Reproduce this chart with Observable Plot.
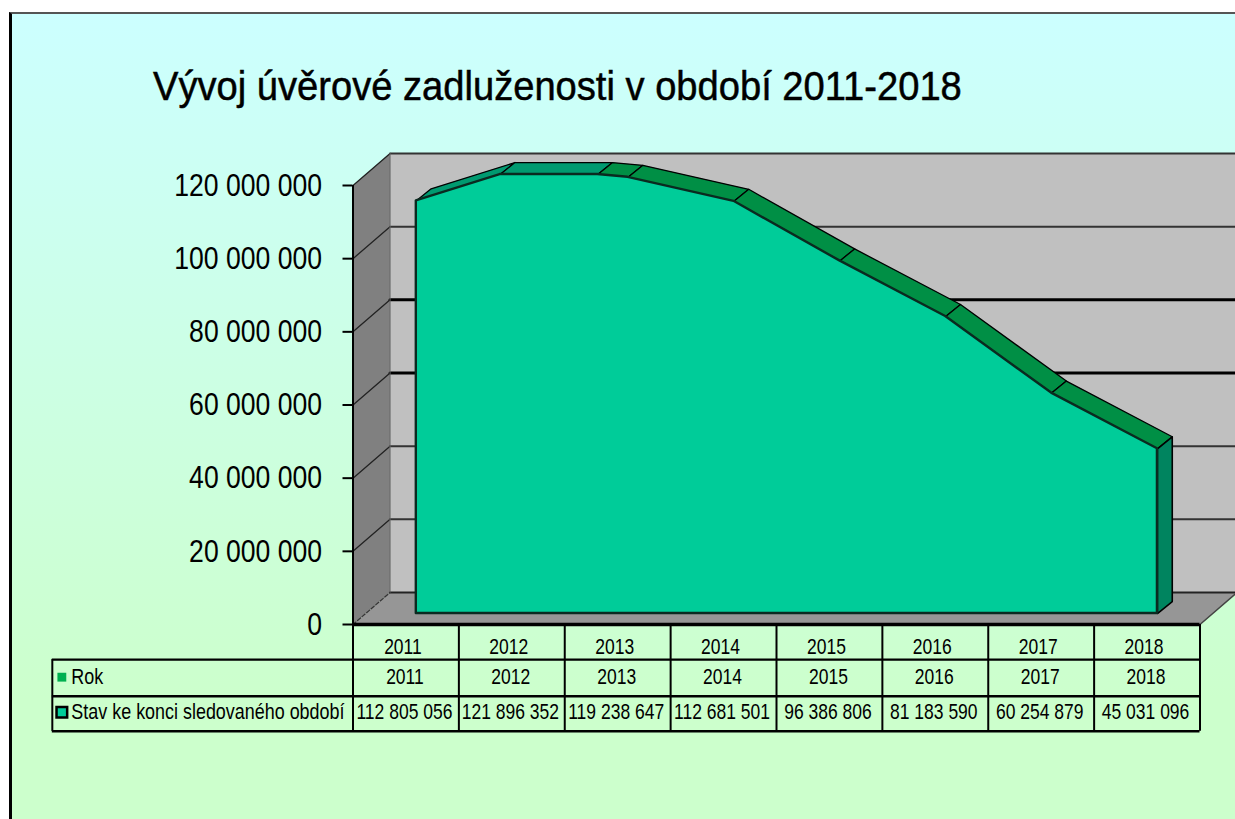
<!DOCTYPE html>
<html><head><meta charset="utf-8">
<script src="https://cdn.jsdelivr.net/npm/d3@7"></script>
<script src="https://cdn.jsdelivr.net/npm/@observablehq/plot@0.6"></script>
<style>
html,body{margin:0;padding:0;background:#fff;overflow:hidden}
#sheet{position:absolute;left:9px;top:12px;width:1226px;height:807px;box-sizing:border-box;border-left:3px solid #000;border-top:2px solid #555;background:linear-gradient(#ccffff,#ccffcc 85%)}
#wrap{position:absolute;left:0;top:0;width:1235px;height:819px}
#title{height:140px;box-sizing:border-box;padding:62px 0 0 153px;font:400 40px/48px "Liberation Sans",Arial,sans-serif;color:#000;white-space:nowrap;-webkit-text-stroke:.5px #000;transform-origin:153px 0;transform:scaleX(.953)}
#wrap svg{display:block}
</style></head><body>
<div id="sheet"></div>
<div id="wrap"><div id="title">Vývoj úvěrové zadluženosti v období 2011-2018</div></div>
<script>
const years=[2011,2012,2013,2014,2015,2016,2017,2018];
const balances=[112805056,121896352,119238647,112681501,96386806,81183590,60254879,45031096];
const balanceLabels=["112 805 056","121 896 352","119 238 647","112 681 501","96 386 806","81 183 590","60 254 879","45 031 096"];
const yTicks=[0,20e6,40e6,60e6,80e6,100e6,120e6];
const yMax=120e6;
const seriesName="Stav ke konci sledovaného období";
const yearRowName="Rok";

// oblique 3-D depth, expressed in data units (years, value)
const wallDepth=[0.35,8.75e6];
const seriesFront=[0.098,3.0e6];
const seriesBack=[0.238,6.28e6];
const shift=(p,d)=>({x:p.x+d[0],y:p.y+d[1]});

// the value axis stops at 120 000 000, so the drawn surface is cut where it crosses it
const profile=[];
years.forEach((yr,i)=>{
  if(i>0){
    const a=balances[i-1],b=balances[i];
    if((a-yMax)*(b-yMax)<0) profile.push({x:years[i-1]+(yMax-a)/(b-a),y:yMax});
  }
  if(balances[i]<=yMax) profile.push({x:yr,y:balances[i]});
});
const front=profile.map(p=>shift(p,seriesFront));
const baseY=seriesFront[1];

// table geometry in data units
const left=2010.5,right=2018.5,tableLeft=2007.66;
const rowEdges=[0,-9.6e6,-19.6e6,-29.2e6];
const rowCentres=[-6.1e6,-14.4e6,-24.0e6];
const columnEdges=d3.range(left,right+1);
const poly=(pts,o)=>Plot.line([...pts,pts[0]],{x:"x",y:"y",...o});
const c=(x,y)=>({x,y});

const wallBack=[c(left,0),c(right,0),c(right,yMax),c(left,yMax)].map(p=>shift(p,wallDepth));
const wallLeft=[c(left,0),shift(c(left,0),wallDepth),shift(c(left,yMax),wallDepth),c(left,yMax)];
const floor=[c(left,0),c(right,0),shift(c(right,0),wallDepth),shift(c(left,0),wallDepth)];

const gridMarks=yTicks.slice(1).flatMap(v=>{
  const heavy=(v===60e6||v===80e6);
  const p=c(left,v),q=shift(p,wallDepth),r=shift(c(right,v),wallDepth);
  return [
    Plot.line([p,q],{x:"x",y:"y",stroke:"#222",strokeWidth:1.3}),
    Plot.line([q,r],{x:"x",y:"y",stroke:heavy?"#000":"#333",strokeWidth:heavy?3:2})
  ];
});

const bandMarks=front.slice(0,-1).map((p,i)=>{
  const a=profile[i],b=profile[i+1];
  const teal=i<2;
  return poly([shift(a,seriesFront),shift(b,seriesFront),shift(b,seriesBack),shift(a,seriesBack)],
    {fill:teal?"#009a70":"#008f45",stroke:"#000",strokeWidth:1.3});
});
const lastP=profile[profile.length-1];
const sideFace=[shift(lastP,seriesFront),shift(c(lastP.x,0),seriesFront),shift(c(lastP.x,0),seriesBack),shift(lastP,seriesBack)];

const table=years.map((yr,i)=>({yr,year:String(yr),label:balanceLabels[i]}));

const font='"Liberation Sans",Arial,sans-serif';
const chart=Plot.plot({
  width:1235,height:679,
  marginLeft:352.5,marginRight:35.5,marginTop:45,marginBottom:195,
  style:{background:"transparent",fontFamily:font,color:"#000",overflow:"hidden"},
  x:{domain:[left,right],axis:null},
  y:{domain:[0,yMax],range:[484,45]},
  marks:[
    poly(wallBack,{fill:"#c0c0c0"}),
    poly(wallLeft,{fill:"#808080"}),
    poly(floor,{fill:"#969696"}),
    ...gridMarks,
    Plot.line([shift(c(left,0),wallDepth),shift(c(right,0),wallDepth)],{x:"x",y:"y",stroke:"#222",strokeWidth:2}),
    Plot.line([shift(c(left,0),wallDepth),shift(c(left,yMax),wallDepth)],{x:"x",y:"y",stroke:"#666",strokeWidth:1}),
    Plot.line([c(left,0),shift(c(left,0),wallDepth)],{x:"x",y:"y",stroke:"#333",strokeWidth:1.2,strokeDasharray:"4 2"}),
    Plot.line([c(right,0),shift(c(right,0),wallDepth)],{x:"x",y:"y",stroke:"#444",strokeWidth:1.5}),
    ...bandMarks,
    poly(sideFace,{fill:"#00845f",stroke:"#000",strokeWidth:1.6}),
    Plot.areaY(front,{x:"x",y1:baseY,y2:"y",fill:"#00cc99",stroke:"#0a2a20",strokeWidth:2.4}),
    Plot.ruleX([left],{y1:0,y2:yMax,stroke:"#000",strokeWidth:2}),
    Plot.axisY({ticks:yTicks,tickFormat:d=>d3.format(",")(d).replace(/,/g," "),label:null,anchor:"left",
      tickSize:10,tickPadding:21,fontSize:32,stroke:"#000",strokeWidth:2,textStroke:"none",className:"tickText"}),
    // data table
    ...rowEdges.map((v,i)=>Plot.ruleY([v],{x1:i<1?left:tableLeft,x2:right,stroke:"#000",strokeWidth:i===0?3.5:2.4})),
    Plot.ruleX(columnEdges,{y1:rowEdges[0],y2:rowEdges[3],stroke:"#000",strokeWidth:2}),
    Plot.ruleX([tableLeft],{y1:rowEdges[1],y2:rowEdges[3],stroke:"#000",strokeWidth:2}),
    Plot.text(table,{x:"yr",y:rowCentres[0],text:"year",fontSize:22,dx:-3,fill:"#000",className:"cellText"}),
    Plot.text(table,{x:"yr",y:rowCentres[1],text:"year",fontSize:22,dx:-1,fill:"#000",className:"cellText"}),
    Plot.text(table,{x:"yr",y:rowCentres[2],text:"label",fontSize:22,dx:-1.5,fill:"#000",className:"cellText"}),
    Plot.text([yearRowName],{x:tableLeft+0.18,y:rowCentres[1],text:d=>d,textAnchor:"start",fontSize:22,fill:"#000",className:"legendLabel"}),
    Plot.text([seriesName],{x:tableLeft+0.18,y:rowCentres[2],text:d=>d,textAnchor:"start",fontSize:22,fill:"#000",className:"legendLabel"}),
    Plot.dot([0],{x:tableLeft+0.09,y:rowCentres[1],r:5,symbol:"square",fill:"#00b050"}),
    Plot.dot([0],{x:tableLeft+0.09,y:rowCentres[2],r:6,symbol:"square",fill:"#00cc99",stroke:"#000",strokeWidth:2.5})
  ]
});
document.getElementById("wrap").appendChild(chart);
// Excel's bitmap text is narrow: condense the real text glyphs to the same set width
const condense=(sel,k)=>chart.querySelectorAll(sel).forEach(t=>{
  t.setAttribute("textLength",(t.getComputedTextLength()*k).toFixed(1));
  t.setAttribute("lengthAdjust","spacingAndGlyphs");
});
condense(".tickText text",0.83);
condense(".cellText text",0.795);
condense(".legendLabel text",0.815);
</script>
</body></html>
